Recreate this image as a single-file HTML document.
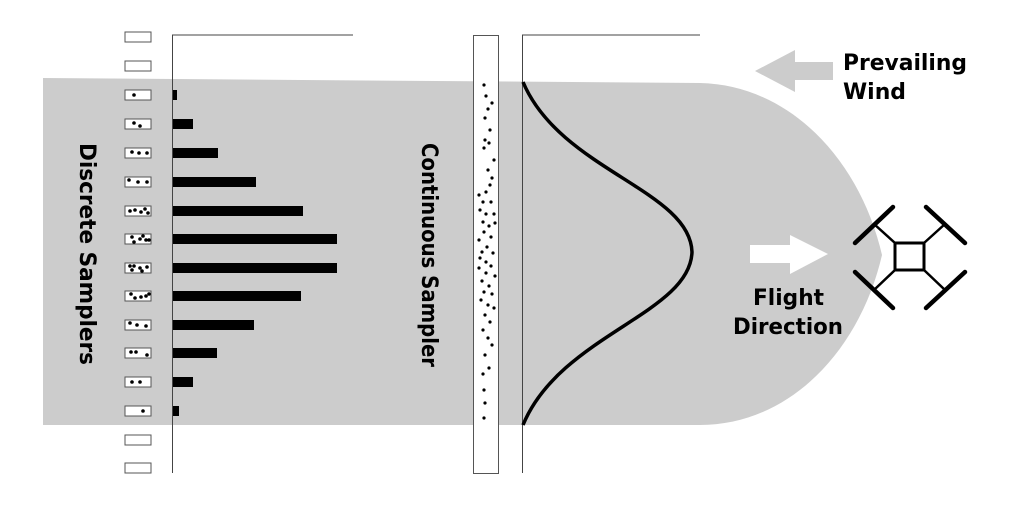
<!DOCTYPE html>
<html><head><meta charset="utf-8"><style>html,body{margin:0;padding:0;background:#fff}svg{display:block}</style></head>
<body>
<svg width="1024" height="511" viewBox="0 0 1024 511" xmlns="http://www.w3.org/2000/svg" font-family="'DejaVu Sans','Liberation Sans',sans-serif" font-weight="bold">
<path d="M43,78 L700,83 C790,85 860,160 882,255 C860,350 790,425 700,425 L43,425 Z" fill="#cccccc"/>
<polygon points="755,71 795,50 795,62 833,62 833,80 795,80 795,92" fill="#cccccc"/>
<polygon points="828,254 790,235 790,245 750,245 750,263 790,263 790,274" fill="#fff"/>
<text x="843" y="70" font-size="22" textLength="124" lengthAdjust="spacingAndGlyphs">Prevailing</text>
<text x="843" y="99" font-size="22" textLength="63" lengthAdjust="spacingAndGlyphs">Wind</text>
<text x="753" y="305" font-size="22" textLength="71" lengthAdjust="spacingAndGlyphs">Flight</text>
<text x="733" y="334" font-size="22" textLength="110" lengthAdjust="spacingAndGlyphs">Direction</text>
<g fill="#fff" stroke="#555" stroke-width="1">
<rect x="125" y="32" width="26" height="10"/><rect x="125" y="61" width="26" height="10"/>
<rect x="125" y="90" width="26" height="10"/><rect x="125" y="119" width="26" height="10"/>
<rect x="125" y="148" width="26" height="10"/><rect x="125" y="177" width="26" height="10"/>
<rect x="125" y="206" width="26" height="10"/><rect x="125" y="234" width="26" height="10"/>
<rect x="125" y="263" width="26" height="10"/><rect x="125" y="291" width="26" height="10"/>
<rect x="125" y="320" width="26" height="10"/><rect x="125" y="348" width="26" height="10"/>
<rect x="125" y="377" width="26" height="10"/><rect x="125" y="406" width="26" height="10"/>
<rect x="125" y="435" width="26" height="10"/><rect x="125" y="463" width="26" height="10"/>
</g>
<g fill="#000">
<circle cx="134" cy="95" r="1.8"/>
<circle cx="134" cy="123" r="1.8"/><circle cx="140" cy="126" r="1.8"/>
<circle cx="132" cy="152" r="1.8"/><circle cx="139" cy="153" r="1.8"/><circle cx="147" cy="153" r="1.8"/>
<circle cx="129" cy="180" r="1.8"/><circle cx="138" cy="182" r="1.8"/><circle cx="147" cy="182" r="1.8"/>
<circle cx="130" cy="211" r="1.8"/><circle cx="135" cy="210" r="1.8"/><circle cx="141" cy="212" r="1.8"/><circle cx="145" cy="209" r="1.8"/><circle cx="148" cy="213" r="1.8"/>
<circle cx="132" cy="237" r="1.8"/><circle cx="134" cy="242" r="1.8"/><circle cx="140" cy="239" r="1.8"/><circle cx="143" cy="236" r="1.8"/><circle cx="146" cy="240" r="1.8"/><circle cx="149" cy="240" r="1.8"/>
<circle cx="130" cy="266" r="1.8"/><circle cx="134" cy="266" r="1.8"/><circle cx="132" cy="270" r="1.8"/><circle cx="140" cy="268" r="1.8"/><circle cx="142" cy="271" r="1.8"/><circle cx="147" cy="267" r="1.8"/>
<circle cx="131" cy="294" r="1.8"/><circle cx="135" cy="298" r="1.8"/><circle cx="141" cy="297" r="1.8"/><circle cx="146" cy="296" r="1.8"/><circle cx="149" cy="294" r="1.8"/>
<circle cx="130" cy="323" r="1.8"/><circle cx="137" cy="325" r="1.8"/><circle cx="146" cy="326" r="1.8"/>
<circle cx="131" cy="352" r="1.8"/><circle cx="136" cy="352" r="1.8"/><circle cx="147" cy="355" r="1.8"/>
<circle cx="132" cy="382" r="1.8"/><circle cx="140" cy="382" r="1.8"/>
<circle cx="143" cy="411" r="1.8"/>
</g>
<g fill="#000">
<rect x="173" y="90" width="4" height="10"/><rect x="173" y="119" width="20" height="10"/>
<rect x="173" y="148" width="45" height="10"/><rect x="173" y="177" width="83" height="10"/>
<rect x="173" y="206" width="130" height="10"/><rect x="173" y="234" width="164" height="10"/>
<rect x="173" y="263" width="164" height="10"/><rect x="173" y="291" width="128" height="10"/>
<rect x="173" y="320" width="81" height="10"/><rect x="173" y="348" width="44" height="10"/>
<rect x="173" y="377" width="20" height="10"/><rect x="173" y="406" width="6" height="10"/>
</g>
<path d="M353,35 H172.5 V473" fill="none" stroke="#444" stroke-width="1"/>
<text transform="translate(80,143) rotate(90)" font-size="22" textLength="222" lengthAdjust="spacingAndGlyphs">Discrete Samplers</text>
<text transform="translate(422,143) rotate(90)" font-size="22" textLength="224" lengthAdjust="spacingAndGlyphs">Continuous Sampler</text>
<rect x="473.5" y="35.5" width="25" height="438" fill="#fff" stroke="#555"/>
<g fill="#000">
<circle cx="484" cy="85" r="1.6"/><circle cx="486" cy="96" r="1.6"/><circle cx="492" cy="103" r="1.6"/><circle cx="488" cy="109" r="1.6"/><circle cx="485" cy="118" r="1.6"/><circle cx="490" cy="130" r="1.6"/><circle cx="485" cy="140" r="1.6"/><circle cx="489" cy="143" r="1.6"/><circle cx="484" cy="148" r="1.6"/><circle cx="494" cy="160" r="1.6"/><circle cx="488" cy="170" r="1.6"/><circle cx="492" cy="178" r="1.6"/><circle cx="490" cy="185" r="1.6"/><circle cx="479" cy="195" r="1.6"/><circle cx="486" cy="192" r="1.6"/><circle cx="483" cy="202" r="1.6"/><circle cx="491" cy="202" r="1.6"/><circle cx="480" cy="210" r="1.6"/><circle cx="486" cy="214" r="1.6"/><circle cx="494" cy="214" r="1.6"/><circle cx="483" cy="222" r="1.6"/><circle cx="489" cy="226" r="1.6"/><circle cx="495" cy="223" r="1.6"/><circle cx="484" cy="232" r="1.6"/><circle cx="491" cy="237" r="1.6"/><circle cx="479" cy="240" r="1.6"/><circle cx="487" cy="247" r="1.6"/><circle cx="482" cy="252" r="1.6"/><circle cx="493" cy="253" r="1.6"/><circle cx="480" cy="258" r="1.6"/><circle cx="486" cy="262" r="1.6"/><circle cx="491" cy="266" r="1.6"/><circle cx="479" cy="268" r="1.6"/><circle cx="486" cy="273" r="1.6"/><circle cx="495" cy="276" r="1.6"/><circle cx="482" cy="281" r="1.6"/><circle cx="489" cy="286" r="1.6"/><circle cx="484" cy="292" r="1.6"/><circle cx="492" cy="294" r="1.6"/><circle cx="481" cy="300" r="1.6"/><circle cx="488" cy="305" r="1.6"/><circle cx="494" cy="308" r="1.6"/><circle cx="485" cy="315" r="1.6"/><circle cx="490" cy="322" r="1.6"/><circle cx="483" cy="330" r="1.6"/><circle cx="488" cy="338" r="1.6"/><circle cx="492" cy="345" r="1.6"/><circle cx="485" cy="355" r="1.6"/><circle cx="489" cy="368" r="1.6"/><circle cx="483" cy="374" r="1.6"/><circle cx="484" cy="390" r="1.6"/><circle cx="485" cy="403" r="1.6"/><circle cx="484" cy="418" r="1.6"/>
</g>
<path d="M700,35 H522.5 V473" fill="none" stroke="#444" stroke-width="1"/>
<path d="M523,82 C560,170 690,190 692,252 C690,314 560,335 523,425" fill="none" stroke="#000" stroke-width="3.5"/>
<g stroke="#000" fill="none">
<rect x="895" y="243" width="29" height="27" stroke-width="3"/>
<path d="M895,243 L874,224 M924,243 L945,224 M895,270 L874,290 M924,270 L945,290" stroke-width="2.5"/>
<g stroke-width="4.5" stroke-linecap="round">
<path d="M855,243 L893,207"/><path d="M926,207 L965,243"/>
<path d="M855,272 L893,308"/><path d="M926,308 L965,272"/>
</g>
</g>
</svg>
</body></html>
